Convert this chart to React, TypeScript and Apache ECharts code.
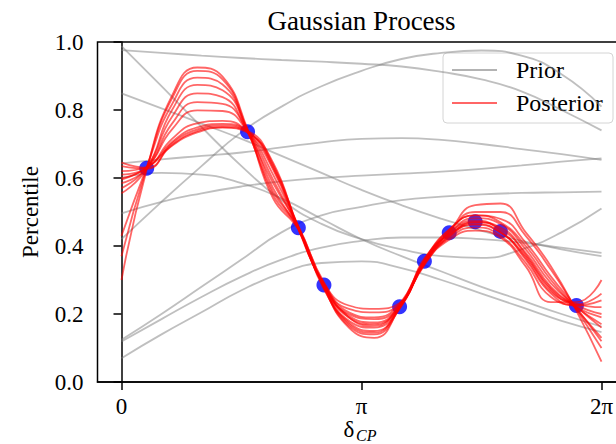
import React, { useEffect, useRef } from "react";
import * as echarts from "echarts";

const TWO_PI = 2 * Math.PI;
const FONT = "'Liberation Serif', 'DejaVu Serif', serif";

// Sample positions on [0, 2π]
const priorX = Array.from({ length: 13 }, (_, i) => (i * Math.PI) / 6);
const posteriorX = Array.from({ length: 20 }, (_, i) => (i * TWO_PI) / 19);

// Prior draws (13 samples each, step π/6)
const prior1 = [0.976, 0.968, 0.96, 0.953, 0.947, 0.942, 0.936, 0.928, 0.912, 0.89, 0.855, 0.8, 0.74];
const prior2 = [0.42, 0.53, 0.635, 0.735, 0.81, 0.87, 0.915, 0.95, 0.968, 0.975, 0.96, 0.905, 0.81];
const prior3 = [0.988, 0.87, 0.75, 0.635, 0.535, 0.465, 0.42, 0.39, 0.37, 0.365, 0.39, 0.44, 0.51];
const prior4 = [0.849, 0.805, 0.76, 0.715, 0.665, 0.615, 0.565, 0.52, 0.48, 0.445, 0.415, 0.39, 0.37];
const prior5 = [0.643, 0.655, 0.665, 0.675, 0.69, 0.705, 0.715, 0.717, 0.712, 0.7, 0.685, 0.67, 0.653];
const prior6 = [0.496, 0.53, 0.555, 0.575, 0.59, 0.6, 0.607, 0.613, 0.619, 0.627, 0.637, 0.648, 0.658];
const prior7 = [0.124, 0.2, 0.28, 0.36, 0.44, 0.49, 0.515, 0.535, 0.545, 0.552, 0.556, 0.558, 0.56];
const prior8 = [0.119, 0.185, 0.25, 0.31, 0.36, 0.395, 0.415, 0.425, 0.425, 0.42, 0.41, 0.395, 0.38];
const prior9 = [0.07, 0.14, 0.205, 0.27, 0.32, 0.35, 0.355, 0.335, 0.3, 0.26, 0.22, 0.18, 0.147];
const prior10 = [0.6, 0.615, 0.61, 0.585, 0.54, 0.48, 0.42, 0.37, 0.325, 0.28, 0.24, 0.2, 0.163];
const priorDraws = [prior1, prior2, prior3, prior4, prior5, prior6, prior7, prior8, prior9, prior10];

// Posterior draws (20 samples each, step 2π/19)
const post1 = [0.3, 0.625, 0.842, 0.925, 0.898, 0.742, 0.54, 0.448, 0.275, 0.175, 0.15, 0.215, 0.35, 0.435, 0.47, 0.45, 0.38, 0.28, 0.22, 0.17];
const post2 = [0.37, 0.63, 0.834, 0.915, 0.89, 0.738, 0.55, 0.452, 0.28, 0.16, 0.13, 0.218, 0.36, 0.45, 0.49, 0.47, 0.4, 0.3, 0.215, 0.13];
const post3 = [0.43, 0.632, 0.817, 0.895, 0.875, 0.735, 0.56, 0.455, 0.29, 0.19, 0.165, 0.225, 0.355, 0.44, 0.475, 0.445, 0.36, 0.26, 0.225, 0.24];
const post4 = [0.555, 0.627, 0.8, 0.874, 0.858, 0.74, 0.57, 0.45, 0.282, 0.17, 0.145, 0.22, 0.345, 0.43, 0.465, 0.44, 0.37, 0.27, 0.22, 0.19];
const post5 = [0.57, 0.63, 0.78, 0.849, 0.838, 0.733, 0.585, 0.458, 0.295, 0.205, 0.19, 0.23, 0.36, 0.445, 0.5, 0.5, 0.43, 0.33, 0.215, 0.1];
const post6 = [0.585, 0.628, 0.76, 0.823, 0.818, 0.737, 0.595, 0.453, 0.285, 0.195, 0.175, 0.222, 0.35, 0.425, 0.455, 0.43, 0.35, 0.25, 0.228, 0.26];
const post7 = [0.6, 0.631, 0.743, 0.799, 0.797, 0.736, 0.61, 0.456, 0.288, 0.215, 0.205, 0.228, 0.355, 0.44, 0.482, 0.465, 0.39, 0.29, 0.222, 0.16];
const post8 = [0.61, 0.629, 0.715, 0.761, 0.768, 0.734, 0.625, 0.452, 0.279, 0.165, 0.14, 0.215, 0.352, 0.445, 0.52, 0.525, 0.44, 0.34, 0.21, 0.06];
const post9 = [0.62, 0.633, 0.706, 0.749, 0.759, 0.737, 0.635, 0.457, 0.292, 0.225, 0.215, 0.232, 0.365, 0.435, 0.462, 0.44, 0.365, 0.265, 0.23, 0.22];
const post10 = [0.635, 0.627, 0.702, 0.743, 0.755, 0.735, 0.645, 0.45, 0.283, 0.18, 0.16, 0.218, 0.348, 0.42, 0.445, 0.425, 0.34, 0.235, 0.235, 0.3];
const post11 = [0.645, 0.63, 0.697, 0.738, 0.75, 0.738, 0.64, 0.455, 0.287, 0.2, 0.185, 0.224, 0.358, 0.45, 0.49, 0.48, 0.41, 0.31, 0.218, 0.12];
const post12 = [0.595, 0.63, 0.695, 0.734, 0.748, 0.733, 0.63, 0.453, 0.284, 0.19, 0.17, 0.22, 0.354, 0.43, 0.47, 0.455, 0.375, 0.275, 0.226, 0.2];
const posteriorDraws = [post1, post2, post3, post4, post5, post6, post7, post8, post9, post10, post11, post12];

// Observations
const obsX = [0.33, 1.65, 2.315, 2.65, 3.64, 3.965, 4.29, 4.63, 4.96, 5.955];
const obsY = [0.629, 0.736, 0.454, 0.285, 0.221, 0.355, 0.439, 0.471, 0.443, 0.225];

// Axis ticks
const xTickValues = [0, Math.PI, TWO_PI];
const xTickLabels = ["0", "π", "2π"];

const PRIOR_COLOR = "rgba(128,128,128,0.5)";
const POST_COLOR = "rgba(255,0,0,0.6)";

export default function App() {
  const ref = useRef<HTMLDivElement>(null);

  useEffect(() => {
    if (!ref.current) return;
    const chart = echarts.init(ref.current, undefined, { renderer: "svg" });

    const priorSeries = priorDraws.map((ys) => ({
      name: "Prior",
      type: "line",
      data: priorX.map((x, i) => [x, ys[i]]),
      smooth: 0.5,
      symbol: "none",
      lineStyle: { color: PRIOR_COLOR, width: 1.8 },
      z: 2,
      silent: true,
    }));
    const posteriorSeries = posteriorDraws.map((ys) => ({
      name: "Posterior",
      type: "line",
      data: posteriorX.map((x, i) => [x, ys[i]]),
      smooth: 0.5,
      symbol: "none",
      lineStyle: { color: POST_COLOR, width: 1.8 },
      z: 4,
      silent: true,
    }));

    const tickLabel = (v: number) => {
      let best = 0;
      xTickValues.forEach((t, i) => {
        if (Math.abs(t - v) < Math.abs(xTickValues[best] - v)) best = i;
      });
      return xTickLabels[best];
    };

    chart.setOption({
      animation: false,
      grid: { left: 97.5, top: 42, width: 528, height: 340, show: true, borderColor: "#000", borderWidth: 1.5, backgroundColor: "transparent" },
      xAxis: {
        type: "value",
        min: -Math.PI / 10,
        max: TWO_PI + Math.PI / 10,
        splitLine: { show: false },
        axisLine: { show: true, onZero: false, lineStyle: { color: "#000", width: 1.5 } },
        axisTick: { show: true, customValues: xTickValues, length: 8, lineStyle: { color: "#000", width: 1.5 } },
        axisLabel: { customValues: xTickValues, formatter: tickLabel, margin: 13, color: "#000", fontFamily: FONT, fontSize: 23 },
      },
      yAxis: {
        type: "value",
        min: 0,
        max: 1,
        interval: 0.2,
        splitLine: { show: false },
        axisLine: { show: true, lineStyle: { color: "#000", width: 1.5 } },
        axisTick: { show: true, length: 8, lineStyle: { color: "#000", width: 1.5 } },
        axisLabel: { formatter: (v: number) => v.toFixed(1), margin: 14, color: "#000", fontFamily: FONT, fontSize: 23 },
      },
      series: [
        ...priorSeries,
        {
          name: "Observations",
          type: "scatter",
          data: obsX.map((x, i) => [x, obsY[i]]),
          symbolSize: 15,
          itemStyle: { color: "#0000ff" },
          z: 3,
          silent: true,
        },
        ...posteriorSeries,
      ],
      graphic: [
        { type: "text", x: 361.5, y: 21, style: { text: "Gaussian Process", font: `27px ${FONT}`, fill: "#000", textAlign: "center", textVerticalAlign: "middle" } },
        { type: "text", x: 30, y: 212, rotation: Math.PI / 2, style: { text: "Percentile", font: `23px ${FONT}`, fill: "#000", textAlign: "center", textVerticalAlign: "middle" } },
        { type: "text", x: 349, y: 429, style: { text: "δ", font: `23px ${FONT}`, fill: "#000", textAlign: "center", textVerticalAlign: "middle" } },
        { type: "text", x: 356, y: 435, style: { text: "CP", font: `italic 16px ${FONT}`, fill: "#000", textAlign: "left", textVerticalAlign: "middle" } },
        {
          type: "group",
          z: 10,
          children: [
            { type: "rect", shape: { x: 443, y: 53, width: 170, height: 70, r: 4 }, style: { fill: "rgba(255,255,255,0.8)", stroke: "#d4d4d4", lineWidth: 1 } },
            { type: "line", shape: { x1: 452, y1: 70, x2: 497, y2: 70 }, style: { stroke: "rgba(128,128,128,0.6)", lineWidth: 2 } },
            { type: "text", x: 516, y: 70, style: { text: "Prior", font: `24px ${FONT}`, fill: "#000", textVerticalAlign: "middle" } },
            { type: "line", shape: { x1: 452, y1: 103, x2: 497, y2: 103 }, style: { stroke: POST_COLOR, lineWidth: 2 } },
            { type: "text", x: 516, y: 103, style: { text: "Posterior", font: `24px ${FONT}`, fill: "#000", textVerticalAlign: "middle" } },
          ],
        },
      ],
    });

    return () => chart.dispose();
  }, []);

  // The plot area runs past the right edge of the frame, so the chart is wider and clipped.
  return (
    <div style={{ position: "fixed", left: 0, top: 0, width: 616, height: 444, overflow: "hidden", background: "#fff" }}>
      <div ref={ref} style={{ width: 640, height: 444 }} />
    </div>
  );
}
